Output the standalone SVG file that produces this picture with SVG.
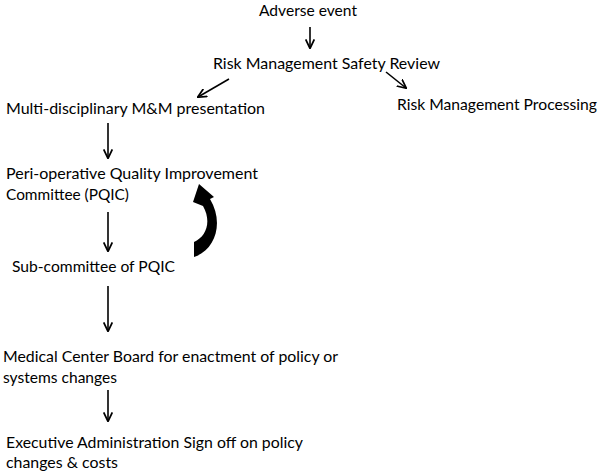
<svg xmlns="http://www.w3.org/2000/svg" width="601" height="473" viewBox="0 0 601 473">
<style>
text{font-family:Lato,"Open Sans","Liberation Sans",sans-serif;font-size:16px;fill:#000}
.c line{stroke:#000;stroke-width:1.6;fill:none}
</style>
<defs>
<marker id="ah" viewBox="0 0 10 10" refX="9" refY="5" markerWidth="6" markerHeight="6" orient="auto" markerUnits="strokeWidth">
<path d="M0,0.5 L9.5,5 L0,9.5" fill="none" stroke="#000" stroke-width="1.8"/>
</marker>
</defs>
<rect width="601" height="473" fill="#fff"/>
<g id="n1"><text x="259" y="16" textLength="98" lengthAdjust="spacingAndGlyphs">Adverse event</text></g>
<g id="n2"><text x="213" y="69" textLength="227" lengthAdjust="spacingAndGlyphs">Risk Management Safety Review</text></g>
<g id="n3"><text x="6" y="114" textLength="259" lengthAdjust="spacingAndGlyphs">Multi-disciplinary M&amp;M presentation</text></g>
<g id="n4"><text x="397" y="110" textLength="200" lengthAdjust="spacingAndGlyphs">Risk Management Processing</text></g>
<g id="n5"><text x="6" y="179" textLength="252" lengthAdjust="spacingAndGlyphs">Peri-operative Quality Improvement</text><text x="6" y="200" textLength="123" lengthAdjust="spacingAndGlyphs">Committee (PQIC)</text></g>
<g id="n6"><text x="12" y="272" textLength="163" lengthAdjust="spacingAndGlyphs">Sub-committee of PQIC</text></g>
<g id="n7"><text x="3" y="362" textLength="335" lengthAdjust="spacingAndGlyphs">Medical Center Board for enactment of policy or</text><text x="3" y="383" textLength="114" lengthAdjust="spacingAndGlyphs">systems changes</text></g>
<g id="n8"><text x="6" y="448" textLength="297" lengthAdjust="spacingAndGlyphs">Executive Administration Sign off on policy</text><text x="6" y="468" textLength="112" lengthAdjust="spacingAndGlyphs">changes &amp; costs</text></g>
<g class="c" id="connectors">
<line x1="310" y1="27" x2="310" y2="48" marker-end="url(#ah)"/>
<line x1="229" y1="79" x2="198" y2="97" marker-end="url(#ah)"/>
<line x1="386" y1="72" x2="406" y2="88" marker-end="url(#ah)"/>
<line x1="108" y1="123" x2="108" y2="158" marker-end="url(#ah)"/>
<line x1="108" y1="212" x2="108" y2="251" marker-end="url(#ah)"/>
<line x1="108" y1="286" x2="108" y2="331" marker-end="url(#ah)"/>
<line x1="108" y1="390" x2="108" y2="421" marker-end="url(#ah)"/>
<path d="M194,257 L194,242 C206,237 212,222 203,206 L193,202 L199,184 L214,197 L210,199 C224,222 216,250 194,257 Z" fill="#000"/>
</g>
</svg>
